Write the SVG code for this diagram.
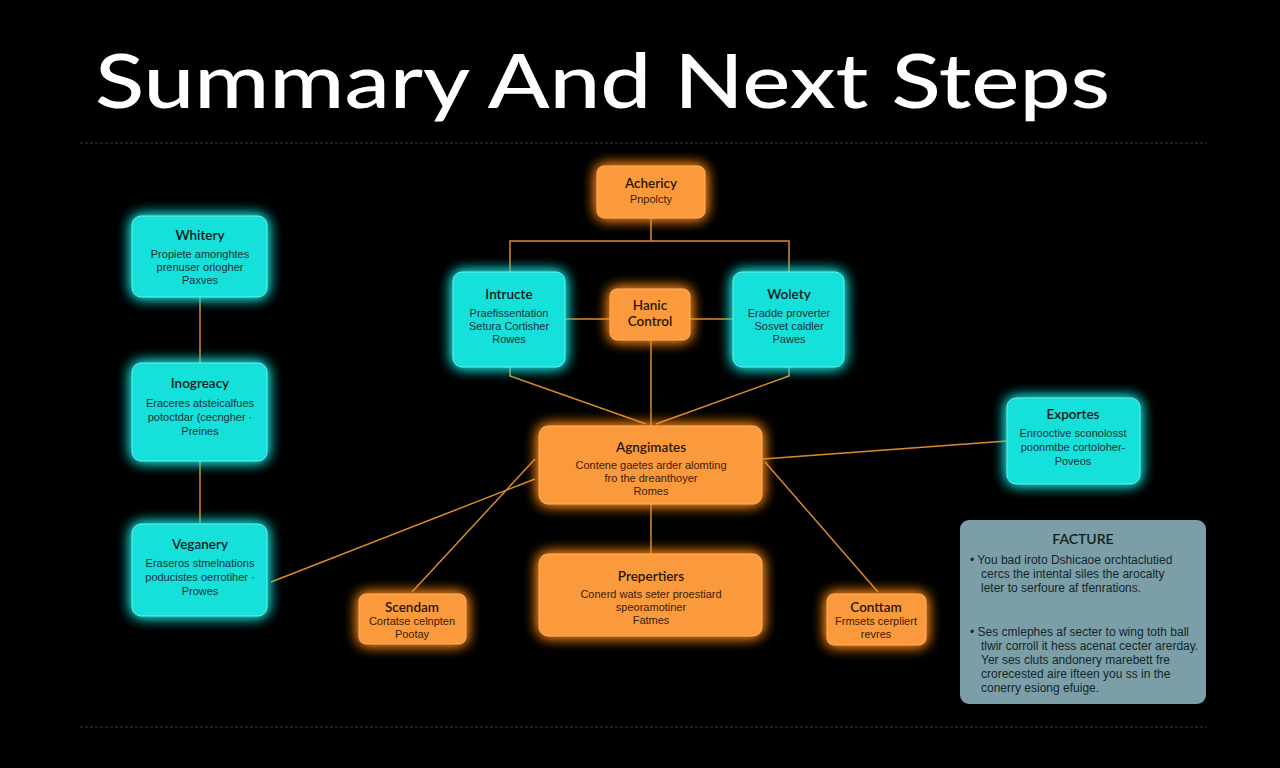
<svg xmlns="http://www.w3.org/2000/svg" width="1280" height="768" viewBox="0 0 1280 768">
<defs>
<filter id="glowC" x="-40%" y="-40%" width="180%" height="180%">
<feGaussianBlur in="SourceAlpha" stdDeviation="7" result="b"/>
<feFlood flood-color="#19e6e0" flood-opacity="0.9"/>
<feComposite in2="b" operator="in" result="g"/>
<feMerge><feMergeNode in="g"/><feMergeNode in="g"/><feMergeNode in="SourceGraphic"/></feMerge>
</filter>
<filter id="glowO" x="-40%" y="-40%" width="180%" height="180%">
<feGaussianBlur in="SourceAlpha" stdDeviation="7" result="b"/>
<feFlood flood-color="#ff8a1a" flood-opacity="0.9"/>
<feComposite in2="b" operator="in" result="g"/>
<feMerge><feMergeNode in="g"/><feMergeNode in="g"/><feMergeNode in="SourceGraphic"/></feMerge>
</filter>
<style>
.cy{fill:#18e0da;stroke:#5ff4ee;stroke-width:1;filter:url(#glowC)}
.or{fill:#fb9a3c;stroke:#ffb060;stroke-width:1;filter:url(#glowO)}
.t{font-family:Lato,"Liberation Sans",sans-serif;font-weight:600;font-size:13.5px;fill:#0d1a1c;text-anchor:middle}
.b{font-family:"Liberation Sans",Arial,sans-serif;font-size:11px;fill:#173033;text-anchor:middle}
.bo{font-family:"Liberation Sans",Arial,sans-serif;font-size:11px;fill:#3a2008;text-anchor:middle}
.tt{font-family:Lato,"Liberation Sans",sans-serif;font-weight:600;font-size:13.5px;fill:#2a1606;text-anchor:middle}
.c{fill:none;stroke:#d98a2c;stroke-width:1.5}
.d{stroke:#3a3a3a;stroke-width:1;stroke-dasharray:3 2}
.f{font-family:"Liberation Sans",Arial,sans-serif;font-size:12px;fill:#14262a}
</style>
</defs>
<rect width="1280" height="768" fill="#000"/>
<text x="95" y="108" font-family="Lato,'Liberation Sans',sans-serif" font-weight="500" font-size="76" fill="#ffffff" textLength="1015" lengthAdjust="spacingAndGlyphs">Summary And Next Steps</text>
<line class="d" x1="80" y1="143" x2="1207" y2="143"/>
<line class="d" x1="80" y1="727" x2="1207" y2="727"/>

<g id="connectors">
<line class="c" x1="200" y1="297" x2="200" y2="363"/>
<line class="c" x1="200" y1="461" x2="200" y2="524"/>
<polyline class="c" points="651,218 651,241"/>
<polyline class="c" points="510,272 510,241 789,241 789,272"/>
<line class="c" x1="565" y1="319" x2="610" y2="319"/>
<line class="c" x1="690" y1="319" x2="733" y2="319"/>
<line class="c" x1="651" y1="340" x2="651" y2="426"/>
<polyline class="c" points="510,367 510,376 646,424"/>
<polyline class="c" points="789,367 789,376 656,424"/>
<line class="c" x1="535" y1="479" x2="271" y2="582"/>
<line class="c" x1="535" y1="459" x2="412" y2="592"/>
<line class="c" x1="651" y1="504" x2="651" y2="554"/>
<line class="c" x1="763" y1="459" x2="1007" y2="441"/>
<line class="c" x1="765" y1="462" x2="878" y2="592"/>
</g>

<g id="whitery">
<rect class="cy" x="132" y="216" width="135" height="81" rx="9"/>
<text class="t" x="200" y="240">Whitery</text>
<text class="b" x="200" y="258">Propiete amonghtes</text>
<text class="b" x="200" y="271">prenuser orlogher</text>
<text class="b" x="200" y="284">Paxves</text>
</g>
<g id="inogreacy">
<rect class="cy" x="132" y="363" width="135" height="98" rx="9"/>
<text class="t" x="200" y="388">Inogreacy</text>
<text class="b" x="200" y="407">Eraceres atsteicalfues</text>
<text class="b" x="200" y="421">potoctdar (cecngher ·</text>
<text class="b" x="200" y="435">Preines</text>
</g>
<g id="veganery">
<rect class="cy" x="132" y="524" width="135" height="92" rx="9"/>
<text class="t" x="200" y="549">Veganery</text>
<text class="b" x="200" y="567">Eraseros stmelnations</text>
<text class="b" x="200" y="581">poducistes oerrotiher ·</text>
<text class="b" x="200" y="595">Prowes</text>
</g>

<g id="achericy">
<rect class="or" x="597" y="166" width="108" height="52" rx="7"/>
<text class="tt" x="651" y="188">Achericy</text>
<text class="bo" x="651" y="203">Pnpolcty</text>
</g>
<g id="intructe">
<rect class="cy" x="453" y="272" width="112" height="95" rx="9"/>
<text class="t" x="509" y="299">Intructe</text>
<text class="b" x="509" y="317">Praefissentation</text>
<text class="b" x="509" y="330">Setura Cortisher</text>
<text class="b" x="509" y="343">Rowes</text>
</g>
<g id="hanic">
<rect class="or" x="610" y="289" width="80" height="51" rx="7"/>
<text class="tt" x="650" y="310">Hanic</text>
<text class="tt" x="650" y="326">Control</text>
</g>
<g id="wolety">
<rect class="cy" x="733" y="272" width="111" height="95" rx="9"/>
<text class="t" x="789" y="299">Wolety</text>
<text class="b" x="789" y="317">Eradde proverter</text>
<text class="b" x="789" y="330">Sosvet caldler</text>
<text class="b" x="789" y="343">Pawes</text>
</g>
<g id="agngimates">
<rect class="or" x="539" y="426" width="223" height="78" rx="9"/>
<text class="tt" x="651" y="452">Agngimates</text>
<text class="bo" x="651" y="469">Contene gaetes arder alomting</text>
<text class="bo" x="651" y="482">fro the dreanthoyer</text>
<text class="bo" x="651" y="495">Romes</text>
</g>
<g id="prepertiers">
<rect class="or" x="539" y="554" width="223" height="82" rx="9"/>
<text class="tt" x="651" y="581">Prepertiers</text>
<text class="bo" x="651" y="598">Conerd wats seter proestiard</text>
<text class="bo" x="651" y="611">speoramotiner</text>
<text class="bo" x="651" y="624">Fatmes</text>
</g>
<g id="scendam">
<rect class="or" x="359" y="594" width="107" height="50" rx="7"/>
<text class="tt" x="412" y="612">Scendam</text>
<text class="bo" x="412" y="625">Cortatse celnpten</text>
<text class="bo" x="412" y="638">Pootay</text>
</g>
<g id="conttam">
<rect class="or" x="827" y="594" width="99" height="51" rx="7"/>
<text class="tt" x="876" y="612">Conttam</text>
<text class="bo" x="876" y="625">Frmsets cerpliert</text>
<text class="bo" x="876" y="638">revres</text>
</g>
<g id="exportes">
<rect class="cy" x="1007" y="398" width="133" height="86" rx="9"/>
<text class="t" x="1073" y="419">Exportes</text>
<text class="b" x="1073" y="437">Enrooctive sconolosst</text>
<text class="b" x="1073" y="451">poonmtbe cortoloher-</text>
<text class="b" x="1073" y="465">Poveos</text>
</g>

<g id="facture">
<rect x="960" y="520" width="246" height="184" rx="9" fill="#7c9fa7"/>
<text x="1083" y="544" text-anchor="middle" font-family="Lato,'Liberation Sans',sans-serif" font-weight="600" font-size="14" fill="#0f1e22">FACTURE</text>
<text class="f" x="970" y="564">•  You bad iroto Dshicaoe orchtaclutied</text>
<text class="f" x="981" y="578">cercs the intental siles the arocalty</text>
<text class="f" x="981" y="592">leter to serfoure af tfenrations.</text>
<text class="f" x="970" y="636">•  Ses cmlephes af secter to wing toth ball</text>
<text class="f" x="981" y="650">tlwir corroll it hess acenat cecter arerday.</text>
<text class="f" x="981" y="664">Yer ses cluts andonery marebett fre</text>
<text class="f" x="981" y="678">crorecested aire ifteen you ss in the</text>
<text class="f" x="981" y="692">conerry esiong efuige.</text>
</g>
</svg>
